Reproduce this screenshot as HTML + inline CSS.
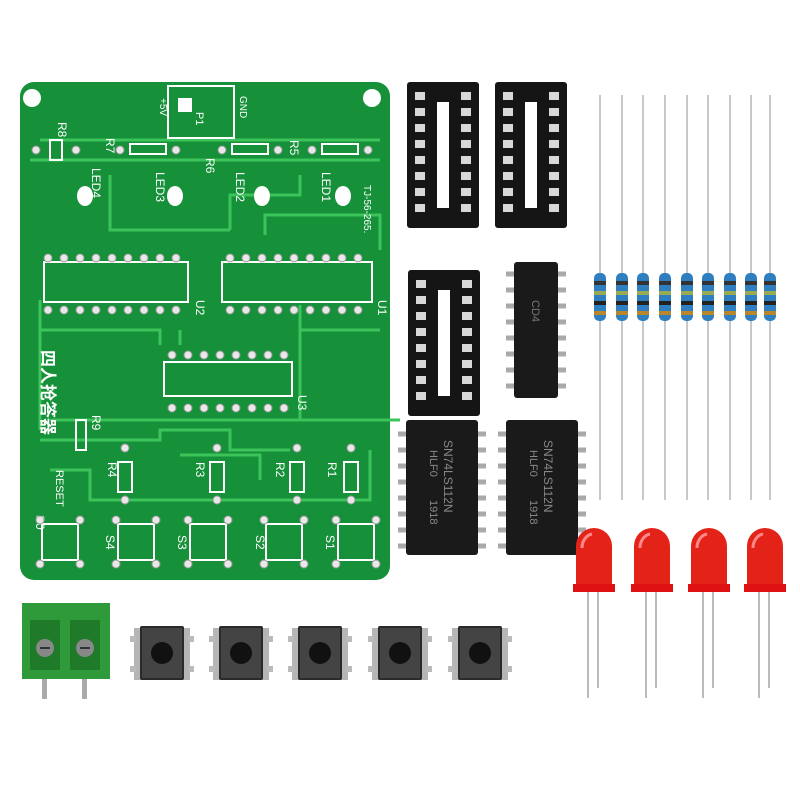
<!DOCTYPE html>
<html><head><meta charset="utf-8"><style>html,body{margin:0;padding:0;background:#fff}svg{display:block}</style></head>
<body>
<svg width="800" height="800" viewBox="0 0 800 800" xmlns="http://www.w3.org/2000/svg" font-family="Liberation Sans, Noto Sans CJK SC, sans-serif">
<defs>
<g id="sock">
<rect x="0" y="0" width="72" height="146" rx="3" fill="#151515"/>
<rect x="30" y="20" width="12" height="106" fill="#fff"/>
<g fill="#d8d8d8">
<rect x="8" y="10" width="10" height="8"/><rect x="8" y="26" width="10" height="8"/><rect x="8" y="42" width="10" height="8"/><rect x="8" y="58" width="10" height="8"/><rect x="8" y="74" width="10" height="8"/><rect x="8" y="90" width="10" height="8"/><rect x="8" y="106" width="10" height="8"/><rect x="8" y="122" width="10" height="8"/>
<rect x="54" y="10" width="10" height="8"/><rect x="54" y="26" width="10" height="8"/><rect x="54" y="42" width="10" height="8"/><rect x="54" y="58" width="10" height="8"/><rect x="54" y="74" width="10" height="8"/><rect x="54" y="90" width="10" height="8"/><rect x="54" y="106" width="10" height="8"/><rect x="54" y="122" width="10" height="8"/>
</g></g>
<g id="btn">
<rect x="-2" y="6" width="56" height="52" fill="#b5b5b5"/>
<rect x="4" y="4" width="44" height="54" rx="2" fill="#2a2a2a"/>
<rect x="6" y="6" width="40" height="50" fill="#444"/>
<circle cx="26" cy="31" r="11" fill="#111"/>
<rect x="-6" y="14" width="6" height="6" fill="#bbb"/><rect x="52" y="14" width="6" height="6" fill="#bbb"/>
<rect x="-6" y="44" width="6" height="6" fill="#bbb"/><rect x="52" y="44" width="6" height="6" fill="#bbb"/>
</g>
<g id="res">
<line x1="0" y1="0" x2="0" y2="405" stroke="#c8c8c8" stroke-width="2"/>
<rect x="-6" y="178" width="12" height="48" rx="5" fill="#2f7fc0"/>
<rect x="-6" y="186" width="12" height="4" fill="#333"/><rect x="-6" y="196" width="12" height="4" fill="#9a5"/><rect x="-6" y="206" width="12" height="4" fill="#222"/><rect x="-6" y="216" width="12" height="4" fill="#b8862b"/>
</g>
<g id="led">
<line x1="-6" y1="60" x2="-6" y2="170" stroke="#bbb" stroke-width="2"/>
<line x1="4" y1="60" x2="4" y2="160" stroke="#bbb" stroke-width="2"/>
<path d="M-18 62 L-18 18 A18 18 0 0 1 18 18 L18 62 Z" fill="#e42318"/>
<rect x="-21" y="56" width="42" height="8" fill="#d11"/>
<path d="M-12 20 A12 14 0 0 1 -2 6" stroke="#f88" stroke-width="3" fill="none"/>
</g>
<g id="ic2">
<rect x="0" y="0" width="72" height="135" rx="3" fill="#1a1a1a"/>
<g stroke="#aaa" stroke-width="5">
<line x1="-8" y1="14" x2="0" y2="14"/><line x1="-8" y1="30" x2="0" y2="30"/><line x1="-8" y1="46" x2="0" y2="46"/><line x1="-8" y1="62" x2="0" y2="62"/><line x1="-8" y1="78" x2="0" y2="78"/><line x1="-8" y1="94" x2="0" y2="94"/><line x1="-8" y1="110" x2="0" y2="110"/><line x1="-8" y1="126" x2="0" y2="126"/>
<line x1="72" y1="14" x2="80" y2="14"/><line x1="72" y1="30" x2="80" y2="30"/><line x1="72" y1="46" x2="80" y2="46"/><line x1="72" y1="62" x2="80" y2="62"/><line x1="72" y1="78" x2="80" y2="78"/><line x1="72" y1="94" x2="80" y2="94"/><line x1="72" y1="110" x2="80" y2="110"/><line x1="72" y1="126" x2="80" y2="126"/>
</g>
<text transform="translate(38,20) rotate(90)" fill="#888" font-size="12">SN74LS112N</text>
<text transform="translate(24,30) rotate(90)" fill="#888" font-size="11">HLF0</text>
<text transform="translate(24,80) rotate(90)" fill="#888" font-size="11">1918</text>
</g>
</defs>

<rect x="20" y="82" width="370" height="498" rx="14" fill="#16913a"/>
<g stroke="#3cc45a" stroke-width="3" fill="none">
<path d="M40 140 H380 M30 160 H380 M110 175 V230 H230 M230 230 V195 H300 V175 M265 235 V215 H380 V250 M300 305 V330 H380"/>
<path d="M40 330 H160 V345 M50 420 H400 M40 440 H160 V430 H230 V450 H290 M50 470 H90 V500 H370 V450 M180 455 H260 V480"/>
<path d="M300 330 V420 M180 330 V345 M40 300 V430"/>
</g>
<circle cx="32" cy="98" r="9" fill="#fff"/><circle cx="372" cy="98" r="9" fill="#fff"/>
<rect x="168" y="86" width="66" height="52" fill="none" stroke="#fff" stroke-width="2"/>
<rect x="178" y="98" width="14" height="14" fill="#fff"/>
<text transform="translate(160,98) rotate(90)" fill="#fff" font-size="10">+5V</text>
<text transform="translate(196,112) rotate(90)" fill="#fff" font-size="11">P1</text>
<text transform="translate(240,96) rotate(90)" fill="#fff" font-size="10">GND</text>
<g fill="#fff" font-size="12">
<text transform="translate(58,122) rotate(90)">R8</text>
<text transform="translate(106,138) rotate(90)">R7</text>
<text transform="translate(206,158) rotate(90)">R6</text>
<text transform="translate(290,140) rotate(90)">R5</text>
<text transform="translate(92,168) rotate(90)">LED4</text>
<text transform="translate(156,172) rotate(90)">LED3</text>
<text transform="translate(236,172) rotate(90)">LED2</text>
<text transform="translate(322,172) rotate(90)">LED1</text>
<text transform="translate(364,185) rotate(90)" font-size="10">TJ-56-265.</text>
<text transform="translate(196,300) rotate(90)">U2</text>
<text transform="translate(378,300) rotate(90)">U1</text>
<text transform="translate(298,395) rotate(90)">U3</text>
<text transform="translate(92,415) rotate(90)">R9</text>
<text transform="translate(108,462) rotate(90)">R4</text>
<text transform="translate(196,462) rotate(90)">R3</text>
<text transform="translate(276,462) rotate(90)">R2</text>
<text transform="translate(328,462) rotate(90)">R1</text>
<text transform="translate(56,470) rotate(90)" font-size="11">RESET</text>
<text transform="translate(36,515) rotate(90)">S0</text>
<text transform="translate(106,535) rotate(90)">S4</text>
<text transform="translate(178,535) rotate(90)">S3</text>
<text transform="translate(256,535) rotate(90)">S2</text>
<text transform="translate(326,535) rotate(90)">S1</text>
<text transform="translate(42,350) rotate(90)" font-size="17" font-weight="bold">四人抢答器</text>
</g>
<g stroke="#fff" stroke-width="2" fill="none">
<rect x="50" y="140" width="12" height="20"/><rect x="130" y="144" width="36" height="10"/><rect x="232" y="144" width="36" height="10"/><rect x="322" y="144" width="36" height="10"/>
<rect x="44" y="262" width="144" height="40"/><rect x="222" y="262" width="150" height="40"/><rect x="164" y="362" width="128" height="34"/>
<rect x="76" y="420" width="10" height="30"/><rect x="118" y="462" width="14" height="30"/><rect x="210" y="462" width="14" height="30"/><rect x="290" y="462" width="14" height="30"/><rect x="344" y="462" width="14" height="30"/>
<rect x="42" y="524" width="36" height="36"/><rect x="118" y="524" width="36" height="36"/><rect x="190" y="524" width="36" height="36"/><rect x="266" y="524" width="36" height="36"/><rect x="338" y="524" width="36" height="36"/>
</g>
<g fill="#fff">
<ellipse cx="85" cy="196" rx="8" ry="10"/><ellipse cx="175" cy="196" rx="8" ry="10"/><ellipse cx="262" cy="196" rx="8" ry="10"/><ellipse cx="343" cy="196" rx="8" ry="10"/>
</g>
<g fill="#e8e8e8" stroke="#999" stroke-width="1">
<circle cx="48" cy="258" r="4"/><circle cx="64" cy="258" r="4"/><circle cx="80" cy="258" r="4"/><circle cx="96" cy="258" r="4"/><circle cx="112" cy="258" r="4"/><circle cx="128" cy="258" r="4"/><circle cx="144" cy="258" r="4"/><circle cx="160" cy="258" r="4"/><circle cx="176" cy="258" r="4"/>
<circle cx="48" cy="310" r="4"/><circle cx="64" cy="310" r="4"/><circle cx="80" cy="310" r="4"/><circle cx="96" cy="310" r="4"/><circle cx="112" cy="310" r="4"/><circle cx="128" cy="310" r="4"/><circle cx="144" cy="310" r="4"/><circle cx="160" cy="310" r="4"/><circle cx="176" cy="310" r="4"/>
<circle cx="230" cy="258" r="4"/><circle cx="246" cy="258" r="4"/><circle cx="262" cy="258" r="4"/><circle cx="278" cy="258" r="4"/><circle cx="294" cy="258" r="4"/><circle cx="310" cy="258" r="4"/><circle cx="326" cy="258" r="4"/><circle cx="342" cy="258" r="4"/><circle cx="358" cy="258" r="4"/>
<circle cx="230" cy="310" r="4"/><circle cx="246" cy="310" r="4"/><circle cx="262" cy="310" r="4"/><circle cx="278" cy="310" r="4"/><circle cx="294" cy="310" r="4"/><circle cx="310" cy="310" r="4"/><circle cx="326" cy="310" r="4"/><circle cx="342" cy="310" r="4"/><circle cx="358" cy="310" r="4"/>
<circle cx="172" cy="355" r="4"/><circle cx="188" cy="355" r="4"/><circle cx="204" cy="355" r="4"/><circle cx="220" cy="355" r="4"/><circle cx="236" cy="355" r="4"/><circle cx="252" cy="355" r="4"/><circle cx="268" cy="355" r="4"/><circle cx="284" cy="355" r="4"/>
<circle cx="172" cy="408" r="4"/><circle cx="188" cy="408" r="4"/><circle cx="204" cy="408" r="4"/><circle cx="220" cy="408" r="4"/><circle cx="236" cy="408" r="4"/><circle cx="252" cy="408" r="4"/><circle cx="268" cy="408" r="4"/><circle cx="284" cy="408" r="4"/>
<circle cx="36" cy="150" r="4"/><circle cx="76" cy="150" r="4"/><circle cx="120" cy="150" r="4"/><circle cx="176" cy="150" r="4"/><circle cx="222" cy="150" r="4"/><circle cx="278" cy="150" r="4"/><circle cx="312" cy="150" r="4"/><circle cx="368" cy="150" r="4"/>
<circle cx="40" cy="520" r="4"/><circle cx="80" cy="520" r="4"/><circle cx="40" cy="564" r="4"/><circle cx="80" cy="564" r="4"/>
<circle cx="116" cy="520" r="4"/><circle cx="156" cy="520" r="4"/><circle cx="116" cy="564" r="4"/><circle cx="156" cy="564" r="4"/>
<circle cx="188" cy="520" r="4"/><circle cx="228" cy="520" r="4"/><circle cx="188" cy="564" r="4"/><circle cx="228" cy="564" r="4"/>
<circle cx="264" cy="520" r="4"/><circle cx="304" cy="520" r="4"/><circle cx="264" cy="564" r="4"/><circle cx="304" cy="564" r="4"/>
<circle cx="336" cy="520" r="4"/><circle cx="376" cy="520" r="4"/><circle cx="336" cy="564" r="4"/><circle cx="376" cy="564" r="4"/>
<circle cx="125" cy="448" r="4"/><circle cx="125" cy="500" r="4"/><circle cx="217" cy="448" r="4"/><circle cx="217" cy="500" r="4"/><circle cx="297" cy="448" r="4"/><circle cx="297" cy="500" r="4"/><circle cx="351" cy="448" r="4"/><circle cx="351" cy="500" r="4"/>
</g>

<use href="#sock" x="407" y="82"/>
<use href="#sock" x="495" y="82"/>
<use href="#sock" x="408" y="270"/>
<rect x="514" y="262" width="44" height="136" rx="3" fill="#1a1a1a"/>
<g stroke="#aaa" stroke-width="5">
<line x1="506" y1="274" x2="514" y2="274"/><line x1="506" y1="290" x2="514" y2="290"/><line x1="506" y1="306" x2="514" y2="306"/><line x1="506" y1="322" x2="514" y2="322"/><line x1="506" y1="338" x2="514" y2="338"/><line x1="506" y1="354" x2="514" y2="354"/><line x1="506" y1="370" x2="514" y2="370"/><line x1="506" y1="386" x2="514" y2="386"/>
<line x1="558" y1="274" x2="566" y2="274"/><line x1="558" y1="290" x2="566" y2="290"/><line x1="558" y1="306" x2="566" y2="306"/><line x1="558" y1="322" x2="566" y2="322"/><line x1="558" y1="338" x2="566" y2="338"/><line x1="558" y1="354" x2="566" y2="354"/><line x1="558" y1="370" x2="566" y2="370"/><line x1="558" y1="386" x2="566" y2="386"/>
</g>
<text transform="translate(532,300) rotate(90)" fill="#777" font-size="11">CD4</text>
<use href="#ic2" x="406" y="420"/>
<use href="#ic2" x="506" y="420"/>

<use href="#res" x="600" y="95"/><use href="#res" x="622" y="95"/><use href="#res" x="643" y="95"/><use href="#res" x="665" y="95"/><use href="#res" x="687" y="95"/><use href="#res" x="708" y="95"/><use href="#res" x="730" y="95"/><use href="#res" x="751" y="95"/><use href="#res" x="770" y="95"/>

<use href="#led" x="594" y="528"/><use href="#led" x="652" y="528"/><use href="#led" x="709" y="528"/><use href="#led" x="765" y="528"/>

<rect x="22" y="603" width="88" height="76" fill="#2f9a3a"/>
<rect x="30" y="620" width="30" height="50" fill="#1f7a2a"/><rect x="70" y="620" width="30" height="50" fill="#1f7a2a"/>
<circle cx="45" cy="648" r="9" fill="#888"/><circle cx="85" cy="648" r="9" fill="#888"/>
<line x1="40" y1="648" x2="50" y2="648" stroke="#333" stroke-width="2"/><line x1="80" y1="648" x2="90" y2="648" stroke="#333" stroke-width="2"/>
<rect x="42" y="679" width="5" height="20" fill="#aaa"/><rect x="82" y="679" width="5" height="20" fill="#aaa"/>

<use href="#btn" x="136" y="622"/><use href="#btn" x="215" y="622"/><use href="#btn" x="294" y="622"/><use href="#btn" x="374" y="622"/><use href="#btn" x="454" y="622"/>
</svg>
</body></html>
